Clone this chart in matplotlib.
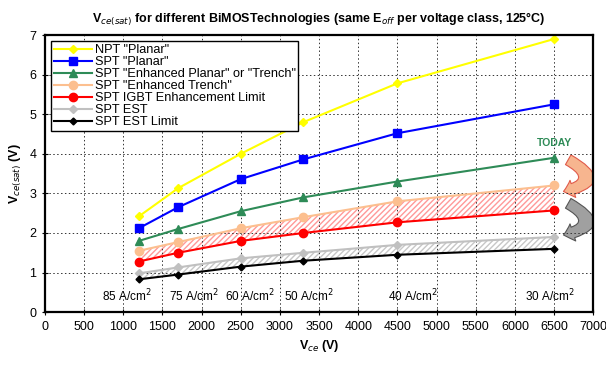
import numpy as np
import matplotlib.pyplot as plt
from matplotlib.patches import FancyArrowPatch

plt.rcParams['font.family'] = ['Liberation Sans', 'DejaVu Sans']

# Blocking voltage classes (V)
vce = [1200, 1700, 2500, 3300, 4500, 6500]

# Vce(sat) per technology (V)
npt_planar = [2.42, 3.13, 4.0, 4.8, 5.78, 6.9]
spt_planar = [2.12, 2.65, 3.36, 3.86, 4.52, 5.25]
spt_enh_planar = [1.8, 2.1, 2.55, 2.9, 3.3, 3.9]
spt_enh_trench = [1.55, 1.77, 2.12, 2.4, 2.8, 3.2]
spt_igbt_limit = [1.28, 1.5, 1.8, 2.0, 2.27, 2.57]
spt_est = [0.98, 1.13, 1.36, 1.5, 1.7, 1.9]
spt_est_limit = [0.83, 0.95, 1.15, 1.3, 1.45, 1.6]

# current density annotations
jd_x = [1050, 1900, 2620, 3370, 4700, 6450]
jd_labels = ["85", "75", "60", "50", "40", "30"]

fig = plt.figure(figsize=(6.06, 3.69), dpi=100)
ax = fig.add_axes([0.074, 0.154, 0.905, 0.751])

ax.fill_between(vce, spt_igbt_limit, spt_enh_trench, facecolor="none",
                edgecolor=(1.0, 0.6, 0.6), hatch="//////", linewidth=0)
ax.fill_between(vce, spt_est_limit, spt_est, facecolor="none",
                edgecolor=(0.78, 0.78, 0.78), hatch="//////", linewidth=0)

ax.plot(vce, npt_planar, "-D", color="#ffff00", ms=4.5, lw=1.5, label='NPT "Planar"')
ax.plot(vce, spt_planar, "-s", color="#0000ff", ms=6, lw=1.5, label='SPT "Planar"')
ax.plot(vce, spt_enh_planar, "-^", color="#2e8b57", ms=6, lw=1.5,
        label='SPT "Enhanced Planar" or "Trench"')
ax.plot(vce, spt_enh_trench, "-o", color="#fcbf8f", ms=6, lw=1.5,
        label='SPT "Enhanced Trench"')
ax.plot(vce, spt_igbt_limit, "-o", color="#ff0000", ms=6, lw=1.5,
        label="SPT IGBT Enhancement Limit")
ax.plot(vce, spt_est, "-D", color="#c0c0c0", ms=4.5, lw=1.5, label="SPT EST")
ax.plot(vce, spt_est_limit, "-D", color="#000000", ms=3.5, lw=1.5,
        label="SPT EST Limit")

for xx, lab in zip(jd_x, jd_labels):
    ax.text(xx, 0.4, lab + " A/cm$^2$", ha="center", va="center", fontsize=8.5)

ax.text(6500, 4.15, "TODAY", color="#2e8b57", fontsize=7.5, fontweight="bold",
        ha="center", va="bottom")

# curved arrows showing the technology steps
arrow_kw = dict(connectionstyle="arc3,rad=-1.3", shrinkA=0, shrinkB=0,
                arrowstyle="simple,head_width=13,head_length=7,tail_width=8",
                lw=0.8)
a1 = FancyArrowPatch((6680, 3.85), (6620, 3.05), facecolor="#f7b58f",
                     edgecolor="#e05a4a", **arrow_kw)
a2 = FancyArrowPatch((6680, 2.75), (6620, 1.95), facecolor="#a0a0a0",
                     edgecolor="#555555", **arrow_kw)
ax.add_patch(a1)
ax.add_patch(a2)

ax.set_xlim(0, 7000)
ax.set_ylim(0, 7)
ax.set_xticks(np.arange(0, 7001, 500))
ax.set_yticks(np.arange(0, 8, 1))
ax.tick_params(labelsize=9, direction="inout", length=5)
ax.grid(True, linestyle=(0, (1.5, 2.5)), color="#333333", lw=0.7)
for s in ax.spines.values():
    s.set_linewidth(1.6)

ax.set_xlabel("V$_{ce}$ (V)", fontsize=9, fontweight="bold")
ax.set_ylabel("V$_{ce(sat)}$ (V)", fontsize=9, fontweight="bold")
ax.set_title("V$_{ce(sat)}$ for different BiMOSTechnologies (same E$_{off}$ per voltage class, 125°C)",
             fontsize=9, fontweight="bold", pad=9)

leg = ax.legend(loc="upper left", fontsize=9.2, fancybox=False, framealpha=1,
                edgecolor="black", borderpad=0.2, labelspacing=0.0,
                handlelength=3.0, handletextpad=0.2, borderaxespad=0.5)
leg.get_frame().set_linewidth(1.0)

fig.savefig("out.png", dpi=100)
